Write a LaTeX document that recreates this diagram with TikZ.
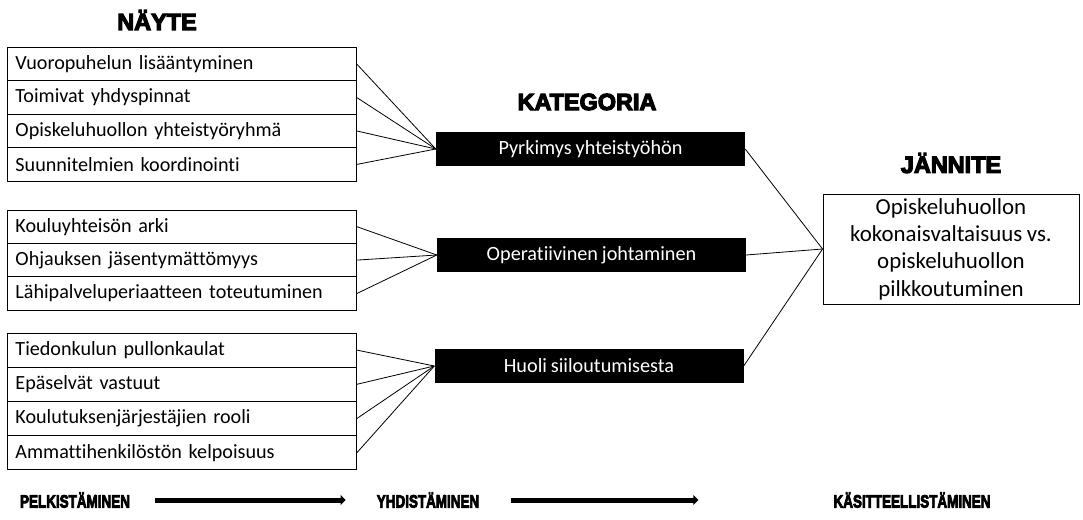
\documentclass[tikz,border=0pt]{standalone}
\usepackage{fontspec}
\setmainfont{Carlito}[Ligatures=NoCommon,WordSpace=0.85]
\newfontfamily\heavyfont{Liberation Sans}[BoldFont={Liberation Sans Bold},BoldFeatures={FakeBold=5}]
\usetikzlibrary{arrows.meta}
\tikzset{
  itembox/.style={draw=black, line width=0.9bp, rectangle, anchor=west, minimum height=33.4bp,
    text width=333bp, inner xsep=8bp, inner ysep=0pt, align=left, font=\fontsize{20.2}{22}\selectfont},
  itembox3/.style={itembox, minimum height=34.2bp},
  catbox/.style={fill=black, text=white, rectangle, minimum width=309bp, minimum height=34bp,
    inner sep=0pt, font=\fontsize{20.3}{22}\selectfont},
  tensionbox/.style={draw=black, line width=0.9bp, rectangle, minimum width=256bp, minimum height=110bp,
    align=center, inner sep=0pt, font=\fontsize{23}{27.5}\selectfont},
  headingtxt/.style={inner sep=0pt, font=\heavyfont\bfseries\fontsize{23.5}{26}\selectfont},
  stagetxt/.style={inner sep=0pt, font=\heavyfont\bfseries\fontsize{18}{20}\selectfont},
  linkline/.style={draw=black, line width=0.8bp},
  bigarrow/.style={draw=black, line width=5bp, -{Triangle[length=5bp,width=10bp]}},
}
\begin{document}
\begin{tikzpicture}[x=1bp,y=-1bp]
\useasboundingbox (0,0) rectangle (1083,520);
% headings
\node[headingtxt] (hn) at (157,20) {NÄYTE};
\node[headingtxt] (hk) at (587,102) {KATEGORIA};
\node[headingtxt] (hj) at (951,163) {JÄNNITE};
% group 1
\node[itembox] (a1) at (7,64.2) {Vuoropuhelun lisääntyminen};
\node[itembox] (a2) at (7,97.6) {Toimivat yhdyspinnat};
\node[itembox] (a3) at (7,131.0) {Opiskeluhuollon yhteistyöryhmä};
\node[itembox] (a4) at (7,164.4) {Suunnitelmien koordinointi};
% group 2
\node[itembox] (b1) at (7,226.7) {Kouluyhteisön arki};
\node[itembox] (b2) at (7,260.1) {Ohjauksen jäsentymättömyys};
\node[itembox] (b3) at (7,293.5) {Lähipalveluperiaatteen toteutuminen};
% group 3
\node[itembox3] (c1) at (7,350.1) {Tiedonkulun pullonkaulat};
\node[itembox3] (c2) at (7,384.3) {Epäselvät vastuut};
\node[itembox3] (c3) at (7,418.5) {Koulutuksenjärjestäjien rooli};
\node[itembox3] (c4) at (7,452.7) {Ammattihenkilöstön kelpoisuus};
% categories
\node[catbox] (k1) at (590.5,149) {Pyrkimys yhteistyöhön};
\node[catbox] (k2) at (591.5,255) {Operatiivinen johtaminen};
\node[catbox] (k3) at (589,366) {Huoli siiloutumisesta};
% tension
\node[tensionbox] (t) at (951,249) {Opiskeluhuollon\\kokonaisvaltaisuus vs.\\opiskeluhuollon\\pilkkoutuminen};
% links
\foreach \n in {a1,a2,a3,a4} \draw[linkline] (\n.east) -- (k1.west);
\foreach \n in {b1,b2,b3} \draw[linkline] (\n.east) -- (k2.west);
\foreach \n in {c1,c2,c3,c4} \draw[linkline] (\n.east) -- (k3.west);
\foreach \n in {k1,k2,k3} \draw[linkline] (\n.east) -- (t.west);
% bottom process
\node[stagetxt] (p1) at (75,500) {\scalebox{0.75}[1]{PELKISTÄMINEN}};
\node[stagetxt] (p2) at (428,500) {\scalebox{0.75}[1]{YHDISTÄMINEN}};
\node[stagetxt] (p3) at (912,500) {\scalebox{0.75}[1]{KÄSITTEELLISTÄMINEN}};
\draw[bigarrow, shorten <=25bp, shorten >=31bp] (p1) -- (p2);
\draw[bigarrow, shorten <=32bp, shorten >=135bp] (p2) -- (p3);
\end{tikzpicture}
\end{document}
